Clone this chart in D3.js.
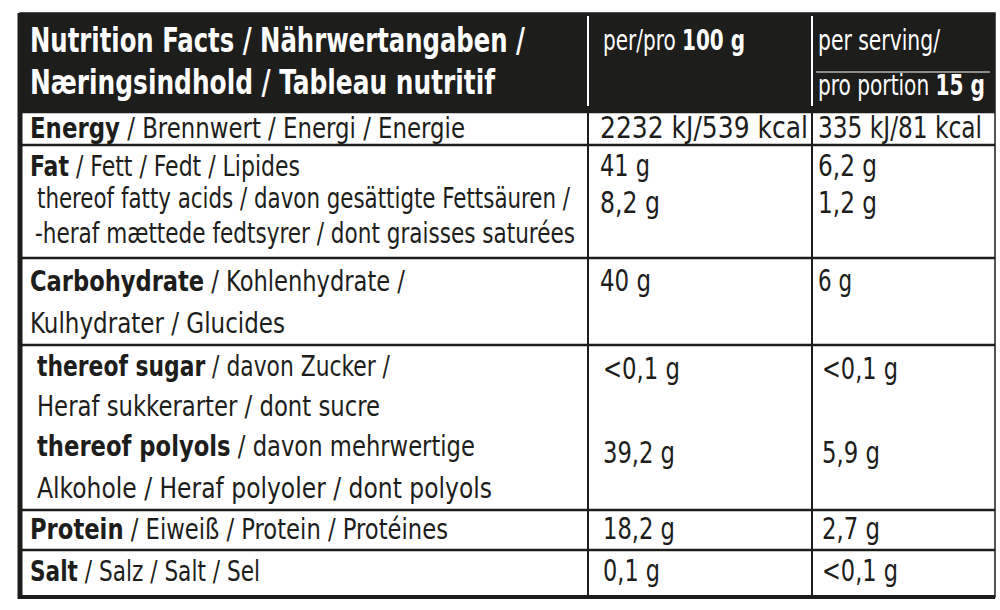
<!DOCTYPE html>
<html><head><meta charset="utf-8">
<script src="https://cdn.jsdelivr.net/npm/d3@7"></script>
<style>body{margin:0;background:#fff}text{font-family:"Liberation Sans Narrow","DejaVu Sans Condensed","Roboto",sans-serif}</style>
</head><body><svg id="c" width="1000" height="610"></svg>
<script>
// Header texts
const headerTitle = ["Nutrition Facts / Nährwertangaben /", "Næringsindhold / Tableau nutritif"];
const header100 = ["per/pro ", "100 g"];
const headerServing = ["per serving/", "pro portion ", "15 g"];
// label lines: [bold part, regular part]
const labelLines = [
  ["Energy", " / Brennwert / Energi / Energie"],
  ["Fat", " / Fett / Fedt / Lipides"],
  ["", "thereof fatty acids / davon gesättigte Fettsäuren /"],
  ["", "-heraf mættede fedtsyrer / dont graisses saturées"],
  ["Carbohydrate", " / Kohlenhydrate /"],
  ["", "Kulhydrater / Glucides"],
  ["thereof sugar", " / davon Zucker /"],
  ["", "Heraf sukkerarter / dont sucre"],
  ["thereof polyols", " / davon mehrwertige"],
  ["", "Alkohole / Heraf polyoler / dont polyols"],
  ["Protein", " / Eiweiß / Protein / Protéines"],
  ["Salt", " / Salz / Salt / Sel"]
];
const per100 = ["2232 kJ/539 kcal","41 g","8,2 g","","40 g","","<0,1 g","","39,2 g","","18,2 g","0,1 g"];
const perServing = ["335 kJ/81 kcal","6,2 g","1,2 g","","6 g","","<0,1 g","","5,9 g","","2,7 g","<0,1 g"];
// layout (not data)
const lineY = [138,176,208,243,291,333,376,416,456,498,539,581];
const lineX = [30,30,37,35,30,30,37,37,37,37,30,30];
const lineW = [435,270,533,540,375,255,353,343,438,455,418,230];
const v1W = [208,50,60,0,51,0,77,0,72,0,72,57];
const v2W = [164,59,59,0,34,0,76,0,58,0,58,76];
const v1X = [600,600,600,0,600,0,603,0,603,0,603,603];
const v2X = [818,818,818,0,818,0,822,0,822,0,822,822];
const valDy = [0,0,5,0,0,0,3,0,7,0,0,0];
const rowLines = [112,145,258,345,510,550];

const svg = d3.select("#c");
const L=20,R=995,T=13,B=597,C1=588,C2=812;
svg.append("rect").attr("x",L).attr("y",T).attr("width",R-L).attr("height",112-T).attr("fill","#1d1d1b");
svg.append("rect").attr("x",L).attr("y",T).attr("width",R-L).attr("height",B-T).attr("fill","none").attr("stroke","#1d1d1b").attr("stroke-width",1.5);
svg.append("line").attr("x1",L).attr("x2",L).attr("y1",T).attr("y2",B+2).attr("stroke","#1d1d1b").attr("stroke-width",5);
svg.append("line").attr("x1",L).attr("x2",R).attr("y1",B).attr("y2",B).attr("stroke","#1d1d1b").attr("stroke-width",4);
svg.selectAll(".rl").data(rowLines).join("line").attr("x1",L).attr("x2",R).attr("y1",d=>d).attr("y2",d=>d).attr("stroke","#1d1d1b").attr("stroke-width",2.5);
[C1,C2].forEach(x=>{
  svg.append("line").attr("x1",x).attr("x2",x).attr("y1",112).attr("y2",B).attr("stroke","#1d1d1b").attr("stroke-width",2);
  svg.append("line").attr("x1",x).attr("x2",x).attr("y1",16).attr("y2",106).attr("stroke","#fff").attr("stroke-width",2);
});
svg.append("line").attr("x1",816).attr("x2",990).attr("y1",72).attr("y2",72).attr("stroke","#fff").attr("stroke-width",1);

// parts: [[text,bold],...]; squeezed to total width w
function txt(x,y,w,parts,size,fill){
  parts=parts.filter(p=>p[0]);
  const els=parts.map(p=>svg.append("text").attr("x",x).attr("y",y).attr("font-size",size)
    .attr("fill",fill).attr("font-weight",p[1]?"bold":"normal").style("white-space","pre").text(p[0]));
  const nat=els.map(e=>e.node().getComputedTextLength());
  const k=w/d3.sum(nat);
  let cx=x;
  els.forEach((e,i)=>{
    const lw=nat[i]*k;
    e.attr("x",cx).attr("textLength",lw).attr("lengthAdjust","spacingAndGlyphs");
    cx+=lw;
  });
}
txt(30,52,495,[[headerTitle[0],1]],34,"#fff");
txt(30,94,465,[[headerTitle[1],1]],34,"#fff");
txt(603,50,142,[[header100[0],0],[header100[1],1]],29,"#fff");
txt(818,50,122,[[headerServing[0],0]],28,"#fff");
txt(818,95,167,[[headerServing[1],0],[headerServing[2],1]],28,"#fff");

labelLines.forEach((l,i)=>{
  txt(lineX[i],lineY[i],lineW[i],[[l[0],1],[l[1],0]],29,"#1d1d1b");
  if(per100[i]) txt(v1X[i],lineY[i]+valDy[i],v1W[i],[[per100[i],0]],31,"#1d1d1b");
  if(perServing[i]) txt(v2X[i],lineY[i]+valDy[i],v2W[i],[[perServing[i],0]],31,"#1d1d1b");
});
</script></body></html>
